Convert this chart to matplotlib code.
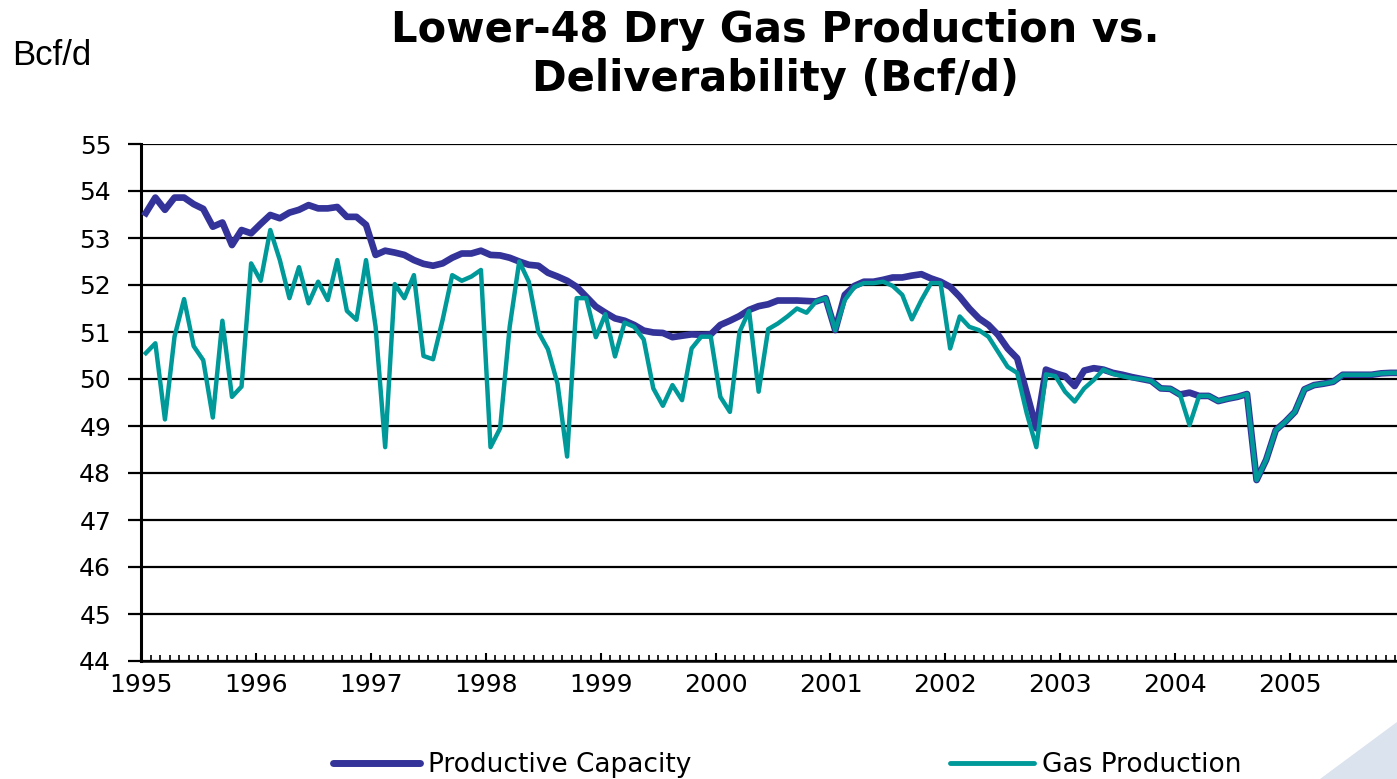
import numpy as np
import matplotlib
matplotlib.use("Agg")
import matplotlib.pyplot as plt
from matplotlib.patches import Polygon

# monthly values, Jan 1995 onwards (Bcf/d)
capacity = [
    53.53, 53.86, 53.60, 53.86, 53.86, 53.72, 53.62, 53.24, 53.33, 52.85, 53.17, 53.10,
    53.30, 53.49, 53.42, 53.54, 53.60, 53.70, 53.63, 53.63, 53.66, 53.45, 53.45, 53.28,
    52.64, 52.73, 52.69, 52.64, 52.53, 52.45, 52.41, 52.46, 52.58, 52.67, 52.67, 52.73,
    52.64, 52.63, 52.58, 52.50, 52.43, 52.41, 52.26, 52.18, 52.09, 51.96, 51.75, 51.54,
    51.41, 51.29, 51.24, 51.15, 51.03, 50.99, 50.98, 50.89, 50.92, 50.95, 50.94, 50.95,
    51.15, 51.24, 51.34, 51.47, 51.55, 51.59, 51.67, 51.67, 51.67, 51.66, 51.65, 51.72,
    51.04, 51.79, 51.98, 52.07, 52.07, 52.11, 52.16, 52.16, 52.20, 52.23, 52.14, 52.07,
    51.96, 51.75, 51.50, 51.29, 51.15, 50.94, 50.65, 50.44, 49.70, 48.95, 50.20, 50.12,
    50.06, 49.85, 50.18, 50.23, 50.20, 50.13, 50.09, 50.04, 50.00, 49.96, 49.80, 49.79,
    49.67, 49.71, 49.64, 49.64, 49.53, 49.58, 49.62, 49.68, 47.85, 48.28, 48.91, 49.09,
    49.30, 49.78, 49.87, 49.90, 49.94, 50.09, 50.09, 50.09, 50.09, 50.12, 50.13, 50.13,
]
production = [
    50.55, 50.76, 49.14, 50.90, 51.70, 50.70, 50.40, 49.18, 51.24, 49.62, 49.84, 52.46,
    52.09, 53.17, 52.53, 51.72, 52.38, 51.61, 52.07, 51.68, 52.53, 51.45, 51.26, 52.53,
    51.11, 48.55, 52.02, 51.72, 52.21, 50.49, 50.42, 51.26, 52.21, 52.09, 52.18, 52.32,
    48.55, 48.95, 51.11, 52.50, 52.07, 51.00, 50.63, 49.90, 48.35, 51.72, 51.72, 50.89,
    51.38, 50.48, 51.20, 51.11, 50.84, 49.80, 49.43, 49.87, 49.55, 50.65, 50.90, 50.90,
    49.62, 49.30, 51.00, 51.45, 49.73, 51.06, 51.18, 51.33, 51.50, 51.41, 51.65, 51.72,
    51.04, 51.68, 51.96, 52.04, 52.04, 52.07, 51.98, 51.79, 51.27, 51.68, 52.04, 52.04,
    50.65, 51.33, 51.11, 51.04, 50.90, 50.58, 50.26, 50.13, 49.27, 48.55, 50.10, 50.06,
    49.73, 49.52, 49.80, 49.98, 50.20, 50.11, 50.06, 50.02, 50.00, 49.96, 49.80, 49.79,
    49.67, 49.02, 49.64, 49.64, 49.53, 49.58, 49.62, 49.68, 47.85, 48.28, 48.91, 49.09,
    49.30, 49.78, 49.87, 49.90, 49.94, 50.09, 50.09, 50.09, 50.09, 50.12, 50.13, 50.13,
]
years = [str(y) for y in range(1995, 2006)]
y_ticks = list(range(44, 56))

BLUE = '#333399'
TEAL = '#009999'

W, H = 1397, 779
fig = plt.figure(figsize=(W / 100, H / 100), dpi=100)
fig.patch.set_facecolor('white')

# axes: left edge at 141px, 12 months = 114.9px, right side runs off the canvas
ax = fig.add_axes([141 / W, 118 / H, 1264 / W, 517 / H])
months = np.arange(len(capacity)) + 0.5
ax.plot(months, capacity, color=BLUE, lw=4.8, solid_joinstyle='round', zorder=3)
ax.plot(months, production, color=TEAL, lw=3.2, solid_joinstyle='round', zorder=4)

ax.set_xlim(0, 132)
ax.set_ylim(44, 55)
ax.set_yticks(y_ticks)
ax.set_xticks(np.arange(0, 132, 12))
ax.set_xticklabels(years)
ax.set_xticks(np.arange(0, 133, 1), minor=True)

ax.grid(axis='y', color='black', lw=1.6, zorder=1)
ax.set_axisbelow(True)
for side in ['top', 'right']:
    ax.spines[side].set_visible(False)
ax.spines['left'].set_linewidth(2.2)
ax.spines['bottom'].set_linewidth(1.8)

ax.tick_params(axis='y', direction='out', length=9.5, width=1.6, pad=12,
               labelsize=18)
ax.tick_params(axis='x', which='major', direction='in', length=6, width=1.5,
               pad=9, labelsize=18)
ax.tick_params(axis='x', which='minor', direction='in', length=4.3, width=1.2)
for lab in ax.get_xticklabels() + ax.get_yticklabels():
    lab.set_family('DejaVu Sans')

fig.text(775 / W, 1 - 9 / H, 'Lower-48 Dry Gas Production vs.\nDeliverability (Bcf/d)',
         ha='center', va='top', fontsize=30, fontweight='bold',
         family='DejaVu Sans', linespacing=1.2)
fig.text(12 / W, 1 - 65 / H, 'Bcf/d', ha='left', va='baseline', fontsize=25,
         family='Liberation Sans')

# two separate legend entries placed along the bottom
h_cap = plt.Line2D([], [], color=BLUE, lw=5, solid_capstyle='round')
h_prod = plt.Line2D([], [], color=TEAL, lw=3.5, solid_capstyle='round')
leg_kw = dict(frameon=False, fontsize=19, borderpad=0, borderaxespad=0,
              handletextpad=0.3, loc='center left')
fig.legend([h_cap], ['Productive Capacity'], bbox_to_anchor=(333 / W, 1 - 765 / H),
           handlelength=3.3, **leg_kw)
fig.legend([h_prod], ['Gas Production'], bbox_to_anchor=(950 / W, 1 - 765 / H),
           handlelength=3.2, **leg_kw)

# light corner decoration
fig.patches.append(Polygon([(1320 / W, 0), (1.0, 57 / H), (1.0, 0)],
                           closed=True, transform=fig.transFigure,
                           facecolor='#dbe3ee', edgecolor='none'))

fig.savefig('out.png', dpi=100, facecolor='white')
